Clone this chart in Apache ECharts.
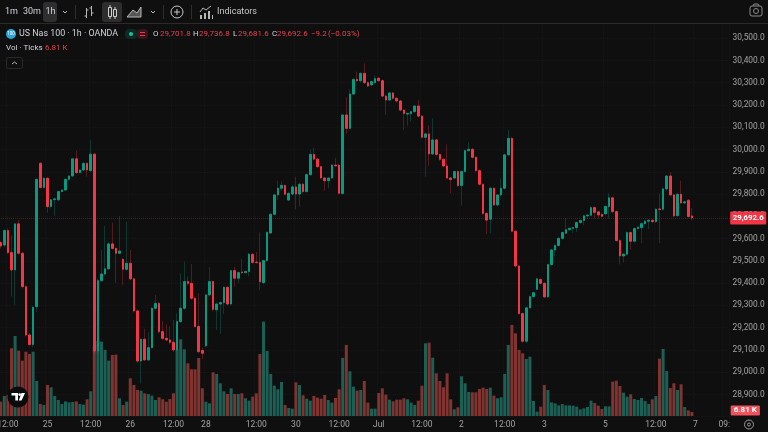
<!DOCTYPE html>
<html><head><meta charset="utf-8">
<style>html,body{margin:0;padding:0;background:#0f0f0f}#c{width:768px;height:432px}</style>
<script src="https://cdn.jsdelivr.net/npm/echarts@6/dist/echarts.min.js"></script>
</head><body><div id="c"></div>
<script>
const opens=[29582,29571,29636,29537,29459,29666,29534,29384,29167,29124,
29294,29938,29829,29871,29744,29775,29774,29811,29818,29866,
29881,29958,29896,29908,29938,29905,29979,29095,29411,29441,
29464,29576,29556,29534,29507,29462,29489,29419,29275,29050,
29148,29055,29110,29287,29309,29182,29152,29145,29134,29100,
29227,29287,29407,29399,29332,29205,29097,29118,29347,29407,
29280,29306,29312,29381,29306,29456,29422,29450,29447,29452,
29529,29494,29493,29402,29501,29625,29709,29796,29826,29839,
29773,29800,29832,29800,29844,29811,29887,29978,29957,29923,
29872,29860,29872,29930,29929,29803,30155,30095,30249,30315,
30309,30342,30300,30290,30300,30320,30309,30240,30222,30254,
30230,30218,30177,30159,30161,30170,30195,30150,30055,30070,
29980,30043,29978,29956,29926,29872,29872,29901,29838,29901,
29995,30001,29965,29905,29844,29713,29687,29826,29751,29796,
29826,29976,30050,29633,29477,29263,29139,29289,29339,29372,
29416,29399,29338,29483,29549,29569,29601,29624,29640,29646,
29649,29672,29681,29702,29705,29739,29720,29708,29711,29744,
29783,29721,29591,29522,29530,29627,29588,29645,29649,29667,
29678,29682,29676,29733,29732,29823,29881,29796,29703,29799,
29760,29772,29701.8];
const closes=[29567,29636,29537,29459,29666,29534,29384,29167,29124,29291,
29866,29829,29871,29744,29774,29778,29811,29818,29866,29881,
29958,29896,29908,29938,29908,29979,29095,29411,29441,29464,
29576,29556,29534,29544,29462,29489,29419,29275,29050,29148,
29055,29110,29287,29309,29182,29152,29145,29134,29100,29227,
29287,29407,29399,29332,29205,29092,29085,29347,29407,29282,
29306,29312,29381,29306,29456,29422,29447,29447,29452,29530,
29493,29492,29406,29501,29628,29709,29796,29826,29839,29799,
29803,29832,29800,29844,29811,29887,29978,29957,29923,29872,
29860,29872,29930,29927,29803,30155,30095,30249,30315,30309,
30342,30300,30285,30305,30318,30309,30240,30222,30254,30230,
30218,30177,30162,30162,30170,30195,30150,30055,30070,29980,
30043,29978,29956,29926,29872,29865,29901,29838,29901,29995,
30001,29965,29905,29844,29713,29683,29826,29751,29796,29826,
29976,30050,29633,29477,29263,29139,29289,29339,29357,29419,
29399,29338,29483,29549,29569,29601,29627,29640,29646,29649,
29672,29681,29702,29705,29739,29718,29706,29700,29744,29783,
29721,29591,29522,29530,29627,29588,29645,29651,29667,29678,
29682,29676,29732,29731,29823,29881,29796,29702,29799,29760,
29765,29699,29692.6];
const highs=[29590,29642,29645,29616,29668,29683,29540,29390,29175,29298,
29870,29943,29875,29875,29778,29782,29815,29822,29870,29885,
29960,29995,29912,29942,29942,30043,29985,29420,29550,29657,
29585,29672,29560,29702,29512,29676,29549,29425,29280,29152,
29195,29180,29292,29347,29315,29230,29215,29205,29235,29265,
29444,29497,29429,29486,29340,29354,29110,29352,29472,29412,
29312,29318,29385,29386,29460,29474,29452,29510,29458,29535,
29535,29540,29627,29505,29632,29713,29800,29860,29856,29843,
29808,29840,29878,29850,29850,29892,30001,30008,29962,29927,
29876,29876,29934,29963,29935,30160,30234,30270,30320,30350,
30347,30387,30305,30310,30332,30325,30314,30245,30259,30258,
30235,30223,30182,30167,30175,30200,30222,30155,30075,30110,
30140,30048,29982,29960,30023,29876,29905,29906,29906,30000,
30032,30006,29970,29910,29848,29718,29830,29830,29800,29870,
29980,30088,30055,29638,29482,29268,29294,29344,29362,29424,
29421,29404,29488,29554,29574,29606,29632,29691,29651,29654,
29677,29686,29707,29710,29744,29744,29725,29715,29749,29803,
29788,29726,29596,29535,29632,29632,29650,29656,29672,29683,
29687,29687,29737,29803,29828,29886,29898,29801,29804,29860,
29770,29778,29736.8];
const lows=[29555,29560,29530,29340,29302,29527,29376,29160,29115,29113,
29270,29825,29825,29716,29735,29702,29768,29808,29815,29862,
29878,29890,29893,29905,29878,29900,29080,29085,29405,29435,
29460,29550,29400,29530,29392,29455,29413,29268,29040,28950,
29050,29050,29105,29283,29175,29145,29140,29125,29090,29095,
29220,29280,29390,29325,29200,29085,29060,29112,29340,29275,
29190,29172,29260,29300,29300,29384,29400,29440,29442,29430,
29485,29488,29369,29395,29498,29622,29705,29773,29815,29795,
29770,29795,29731,29743,29805,29808,29882,29952,29918,29868,
29814,29826,29868,29922,29798,29795,30070,30090,30245,30304,
30300,30295,30280,30285,30295,30304,30235,30155,30218,30225,
30213,30172,30088,30107,30125,30165,30145,30050,29878,29926,
29975,29972,29950,29920,29866,29803,29866,29832,29748,29896,
29990,29960,29900,29838,29706,29620,29624,29746,29745,29790,
29820,29970,29628,29470,29258,29132,29130,29285,29335,29368,
29394,29333,29333,29478,29520,29564,29596,29619,29635,29625,
29630,29667,29660,29690,29700,29690,29690,29695,29706,29690,
29716,29586,29484,29493,29525,29550,29583,29640,29579,29662,
29643,29671,29670,29579,29725,29815,29790,29696,29698,29755,
29755,29694,29681.6];
const volumesK=[24.4,34.0,35.7,115.1,136.1,111.1,94.1,109.4,105.5,109.4,
59.5,20.4,18.7,52.7,48.8,34.0,27.2,20.4,24.9,23.2,
23.8,24.9,20.4,19.3,28.4,42.0,119.1,127.6,126.4,112.3,
94.1,103.8,104.3,30.1,18.7,24.4,64.1,52.7,44.2,43.1,
38.6,37.4,34.6,27.2,31.8,28.4,24.4,28.9,38.6,113.4,
130.4,113.4,89.6,79.4,79.4,98.7,47.1,24.4,21.5,74.3,
71.4,55.6,42.0,37.4,47.1,37.4,37.4,38.6,30.1,26.1,
32.9,38.6,105.5,160.5,110.6,71.4,51.6,45.4,57.8,18.7,
13.6,12.5,57.3,52.7,35.2,29.5,26.1,34.0,31.2,29.5,
35.7,27.2,22.7,30.6,45.4,98.7,120.8,76.0,49.9,43.1,
44.2,59.5,22.7,12.5,12.5,39.1,47.1,36.3,27.8,24.9,
27.8,27.8,30.1,28.4,22.7,18.7,26.1,51.6,123.6,124.7,
99.2,72.6,59.5,48.8,72.6,28.4,11.3,14.7,67.5,55.6,
40.8,40.3,40.3,45.9,48.2,45.9,48.2,34.6,30.1,31.8,
71.4,120.8,154.8,140.6,112.3,106.6,97.0,100.9,25.5,7.4,
15.9,52.7,44.2,23.2,21.5,18.1,20.4,18.1,18.1,17.6,
15.9,11.3,13.0,15.3,26.1,22.1,17.6,11.9,16.4,16.4,
58.4,60.1,51.0,39.7,32.9,36.9,28.9,27.2,30.6,25.5,
20.4,28.4,34.0,97.5,114.0,76.5,47.6,55.6,44.2,53.9,
15.3,9.6,6.81];
const tickLabels=['12:00','25','12:00','26','12:00','28','12:00','30','12:00','Jul','12:00','2','12:00','3','5','12:00','7','09:'];
const tickSlots=[2,13,25,36,48,57,71,82,94,105,117,128,140,151,168,182,193,201];
const lastPrice=29692.6, lastPriceText='29,692.6';
const lastVolumeK=6.81, lastVolumeText='6.81 K';
const slotCount=203;

const categories=new Array(slotCount).fill('').map((_,i)=>{const k=tickSlots.indexOf(i);return k>=0?tickLabels[k]:''+i;});
const isTick=i=>tickSlots.indexOf(i)>=0;
const UP='#089981',DOWN='#f23645',BG='#0f0f0f',FONT='Roboto,"Noto Sans",sans-serif';
const wickData=opens.map((o,i)=>[o,closes[i],lows[i],highs[i]]);
const bodyData=opens.map((o,i)=>[o,closes[i],Math.min(o,closes[i]),Math.max(o,closes[i])]);

// toolbar & legend chrome
const g=[];
const T=(x,y,text,fill,size,extra)=>g.push({type:'text',z:101,silent:true,x:x,y:y,style:Object.assign({text:text,fill:fill||'#d1d4dc',font:(size||9)+'px '+FONT,textVerticalAlign:'middle'},extra||{})});
const L=(pts,stroke,w)=>g.push({type:'polyline',z:101,silent:true,shape:{points:pts},style:{stroke:stroke||'#b8b8b8',fill:null,lineWidth:w||1}});
const R=(x,y,w,h,fill,r,stroke)=>g.push({type:'rect',z:101,silent:true,shape:{x:x,y:y,width:w,height:h,r:r||0},style:{fill:fill,stroke:stroke||null,lineWidth:1}});
const C=(x,y,r,fill,stroke)=>g.push({type:'circle',z:101,silent:true,shape:{cx:x,cy:y,r:r},style:{fill:fill,stroke:stroke||null,lineWidth:1}});
R(0,0,768,23,BG); L([[0,23.5],[768,23.5]],'#2a2a2a');
R(43,2,14,20,'#2e2e2e',3); R(102,2,20,20,'#2e2e2e',3);
T(5,12,'1m'); T(23,12,'30m'); T(45.5,12,'1h');
L([[63,11],[65,13],[67,11]]); L([[75.5,5],[75.5,19]],'#2e2e2e');
L([[86.5,8],[86.5,18]]);L([[84.5,16],[86.5,16]]);L([[86.5,10],[88.5,10]]);L([[91.5,6],[91.5,16]]);L([[89.5,8],[91.5,8]]);L([[91.5,13],[93.5,13]]);
R(108.5,7.5,3,9,null,0,'#d0d0d0');L([[110,5],[110,7]],'#d0d0d0');L([[110,17],[110,19]],'#d0d0d0');
R(113.5,9.5,3,7,null,0,'#d0d0d0');L([[115,7],[115,9]],'#d0d0d0');L([[115,17],[115,19]],'#d0d0d0');
g.push({type:'polygon',z:101,silent:true,shape:{points:[[127,17],[133,10],[137,13],[141,7],[141,17]]},style:{fill:'#555',stroke:'#b8b8b8',lineWidth:1}});
L([[151,11],[153,13],[155,11]]); L([[163.5,5],[163.5,19]],'#2e2e2e');
C(177,12,6,null,'#c8c8c8'); L([[174,12],[180,12]],'#c8c8c8'); L([[177,9],[177,15]],'#c8c8c8');
L([[191.5,5],[191.5,19]],'#2e2e2e');
L([[200,12],[203,8],[206,10],[211,6]]);R(200,15,2,4,'#b8b8b8');R(204,13,2,6,'#b8b8b8');R(208,11,2,8,'#b8b8b8');R(212,15,1,4,'#b8b8b8');
T(217,12,'Indicators','#c8c8c8',9);
R(750,6,12,10,null,2,'#8a8a8a');C(756,11,2.5,null,'#8a8a8a');L([[753,6],[754,4],[758,4],[759,6]],'#8a8a8a');

C(11,34,5,'#2aa5d6'); T(11,34,'100','#fff',4.5,{textAlign:'center'});
T(19,34,'US Nas 100 · 1h · OANDA','#d1d4dc',8.9);
R(125,29,12,10,'#0d2b26',4); R(137,29,11,10,'#37161c',4); C(131,34,2,'#1fbf9f');
L([[140,32.5],[145,32.5]],'#f23645');L([[140,35.5],[145,35.5]],'#f23645');
const RED='#e0434f',OS=8;
T(153,34,'O','#d1d4dc',OS);T(160,34,'29,701.8',RED,OS);
T(193,34,'H','#d1d4dc',OS);T(199,34,'29,736.8',RED,OS);
T(233,34,'L','#d1d4dc',OS);T(238,34,'29,681.6',RED,OS);
T(272,34,'C','#d1d4dc',OS);T(277,34,'29,692.6',RED,OS);
T(311,34,'−9.2',RED,OS);T(328,34,'(−0.03%)',RED,OS);
T(6,48,'Vol · Ticks','#d1d4dc',8);T(45,48,'6.81 K',RED,8);
R(6.5,57.5,16,11,null,2,'#2a2a2a');L([[12,64],[14.5,62],[17,64]],'#b8b8b8');
C(18,397,10.5,'#0b0b0b');
g.push({type:'polygon',z:101,silent:true,shape:{points:[[11.5,393],[18,393],[18,400.5],[15.3,400.5],[15.3,395.5],[11.5,395.5]]},style:{fill:'#fff'}});
C(19.7,394.6,1.3,'#fff');
g.push({type:'polygon',z:101,silent:true,shape:{points:[[21.5,393],[25,393],[21.5,400.5],[18.8,400.5]]},style:{fill:'#fff'}});
C(749,424.5,4.5,null,'#9a9a9a');C(749,424.5,1.5,null,'#9a9a9a');

const chart=echarts.init(document.getElementById('c'),null,{width:768,height:432});
chart.setOption({
  animation:false,backgroundColor:BG,
  graphic:{elements:g},
  grid:[
    {left:-1.1,width:730.8,top:15.9,height:400.8,outerBoundsMode:'none'},
    {left:-1.1,width:730.8,top:316,height:100,outerBoundsMode:'none'}
  ],
  xAxis:[
    {type:'category',gridIndex:0,data:categories,boundaryGap:true,
     axisLine:{show:false},
     axisTick:{show:false,alignWithLabel:true,interval:i=>isTick(i)},
     axisLabel:{interval:i=>isTick(i),color:'#a3a3a3',fontSize:8.5,fontFamily:FONT,margin:4,hideOverlap:false},
     splitLine:{show:true,interval:i=>isTick(i),lineStyle:{color:'#181818',type:'dotted',width:1}}},
    {type:'category',gridIndex:1,data:categories,show:false}
  ],
  yAxis:[
    {type:'value',gridIndex:0,position:'right',min:28800,max:30600,interval:100,
     axisLine:{show:false},axisTick:{show:false},
     axisLabel:{color:'#a3a3a3',fontSize:8.4,fontFamily:FONT,align:'right',margin:35,showMinLabel:false,showMaxLabel:false,
       formatter:v=>v.toLocaleString('en-US',{minimumFractionDigits:1,maximumFractionDigits:1})},
     splitLine:{show:true,lineStyle:{color:'#181818',type:'dotted',width:1}}},
    {type:'value',gridIndex:1,min:0,max:170,show:false}
  ],
  series:[
    {type:'bar',name:'Vol',xAxisIndex:1,yAxisIndex:1,z:1,barWidth:3,data:volumesK,
     itemStyle:{color:p=>closes[p.dataIndex]>=opens[p.dataIndex]?'#1c5f55':'#7f3431'},
     markLine:{silent:true,symbol:'none',animation:false,lineStyle:{color:'rgba(0,0,0,0)'},
       data:[{yAxis:lastVolumeK}],
       label:{position:'end',distance:1,offset:[0,-1.5],formatter:lastVolumeText,backgroundColor:'#f0535d',color:'#fff',fontSize:8,fontWeight:'bold',fontFamily:FONT,padding:[1,3,1,3],borderRadius:1}}},
    {type:'candlestick',name:'wicks',z:2,barWidth:1,data:wickData,
     itemStyle:{color:'rgba(8,153,129,0.3)',color0:'rgba(242,54,69,0.3)',borderColor:'rgba(8,153,129,0.3)',borderColor0:'rgba(242,54,69,0.3)',borderWidth:1}},
    {type:'candlestick',name:'US Nas 100',z:3,barWidth:2,data:bodyData,
     itemStyle:{color:UP,color0:DOWN,borderColor:UP,borderColor0:DOWN,borderWidth:1},
     markLine:{silent:true,symbol:'none',animation:false,
       lineStyle:{color:'rgba(242,54,69,0.32)',type:'dotted',width:1},
       data:[{yAxis:lastPrice}],
       label:{position:'end',distance:0.5,formatter:lastPriceText,backgroundColor:'#f23645',color:'#fff',fontSize:7.8,fontWeight:'bold',fontFamily:FONT,padding:[2.5,2.5,2.5,2.5],borderRadius:1}}}
  ]
});
</script></body></html>
